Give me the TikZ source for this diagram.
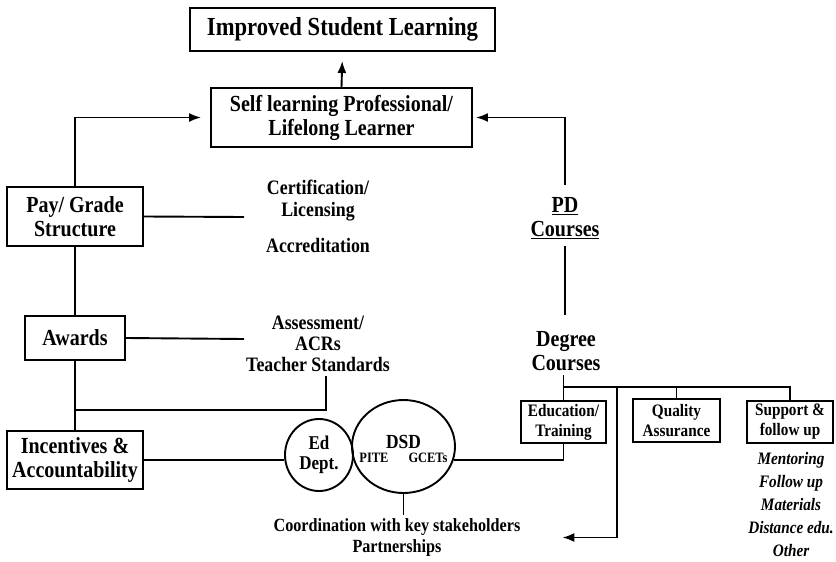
\documentclass[tikz,border=0pt]{standalone}
\usepackage{fontspec}
\setmainfont{Liberation Serif}[FakeStretch=0.87]
\usetikzlibrary{arrows.meta,shapes.geometric}

\newcommand{\sztitle}{\fontsize{26}{28}\selectfont\bfseries}
\newcommand{\szbig}{\fontsize{23}{24}\selectfont\bfseries}
\newcommand{\szlbl}{\fontsize{20.5}{22}\selectfont\bfseries}
\newcommand{\szsmall}{\fontsize{17.5}{20}\selectfont\bfseries}
\newcommand{\sztiny}{\fontsize{14.3}{16}\selectfont\bfseries}

\tikzset{
  box/.style={draw, align=center, inner sep=0pt},
  oval/.style={draw, ellipse, inner sep=0pt},
  lbl/.style={align=center, inner sep=3pt},
  arr/.style={-{Latex[length=12pt,width=9pt]}}
}

\begin{document}
\begin{tikzpicture}[x=1pt, y=-1pt, line width=1.9pt]
  \useasboundingbox (0,0) rectangle (836,562);
  % boxes
  \draw
    (342.5,29.5) node[box, font=\sztitle, minimum width=305pt, minimum height=43pt] (isl){Improved Student Learning}
    (341.5,117.5) node[box, font=\szbig, minimum width=261pt, minimum height=59pt] (slp){Self learning Professional/\\Lifelong Learner}
    (75,216.5) node[box, font=\szbig, minimum width=136pt, minimum height=59pt] (pay){Pay/ Grade\\Structure}
    (75,338) node[box, font=\szbig, minimum width=100pt, minimum height=44pt] (awd){Awards}
    (75,460) node[box, font=\szbig, minimum width=136pt, minimum height=58pt] (inc){Incentives \&\\Accountability}
    (563.5,422) node[box, font=\szsmall, minimum width=85pt, minimum height=42pt] (edu){Education/\\Training}
    (676.5,420.5) node[box, font=\szsmall, minimum width=87pt, minimum height=43pt] (qa){Quality\\Assurance}
    (790,422) node[box, font=\szsmall, minimum width=86pt, minimum height=42pt] (sup){Support \&\\follow up};
  % ovals
  \draw
    (319,455) node[oval, align=center, font=\fontsize{19.5}{20}\selectfont\bfseries, minimum width=68pt, minimum height=72pt] (ed){Ed\\Dept.}
    (403.5,446.5) node[oval, minimum width=103pt, minimum height=93pt] (dsd){}
    (403.5,442) node[font=\fontsize{20}{22}\selectfont\bfseries] (dsdname){DSD}
    (374,458) node[font=\sztiny] (pite){PITE}
    (428,458) node[font=\sztiny] (gcet){GCETs};
  % labels
  \draw
    (318,201) node[lbl, font=\szlbl] (cert){Certification/\\Licensing}
    (318,245) node[lbl, font=\szlbl] (accr){Accreditation}
    (318,344) node[lbl, font=\fontsize{20.5}{21}\selectfont\bfseries] (asr){Assessment/\\ACRs\\Teacher Standards}
    (565,218.5) node[lbl, font=\szbig] (pd){\underline{PD}\\\underline{Courses}}
    (566,351.5) node[lbl, font=\szbig] (deg){Degree\\Courses}
    (397,537.5) node[lbl, font=\fontsize{18.6}{21}\selectfont\bfseries] (coord){Coordination with key stakeholders\\Partnerships}
    (791,505) node[lbl, font=\fontsize{17.5}{23}\selectfont\bfseries\itshape] (list){Mentoring\\Follow up\\Materials\\Distance edu.\\Other};
  \coordinate (certl) at (244,217);
  \coordinate (asrl) at (244,339);
  \coordinate (jn) at (75,410);
  \coordinate (bus) at (617,387);
  % connectors
  \begin{scope}[-]
    \draw[arr, shorten >=9pt] (slp.north) -- (isl.south);
    \draw[arr, shorten >=9pt] (pay.north) |- (slp.west);
    \draw[arr, shorten >=3pt, shorten <=9pt] (pd.north) |- (slp.east);
    \draw (pay.east) -- (certl);
    \draw (awd.east) -- (asrl);
    \draw (pay.south) -- (awd.north);
    \draw (awd.south) -- (inc.north);
    \draw (asr.south) ++(8,0) |- (jn);
    \draw (inc.east) -- (inc.east -| ed.west);
    \draw (dsd.-15) -| (edu.south);
    \draw (dsd.south) -- (dsd.south |- coord.north);
    \draw[shorten <=3pt, shorten >=13pt] (pd.south) -- (pd.south |- deg.north);
    \draw (deg.south -| edu.north) -- (edu.north);
    \draw (edu.north |- bus) -- (sup.north |- bus) -- (sup.north);
    \draw (qa.north |- bus) -- (qa.north);
    \draw[arr, shorten >=38pt] (bus) |- (coord.east);
  \end{scope}
\end{tikzpicture}
\end{document}
